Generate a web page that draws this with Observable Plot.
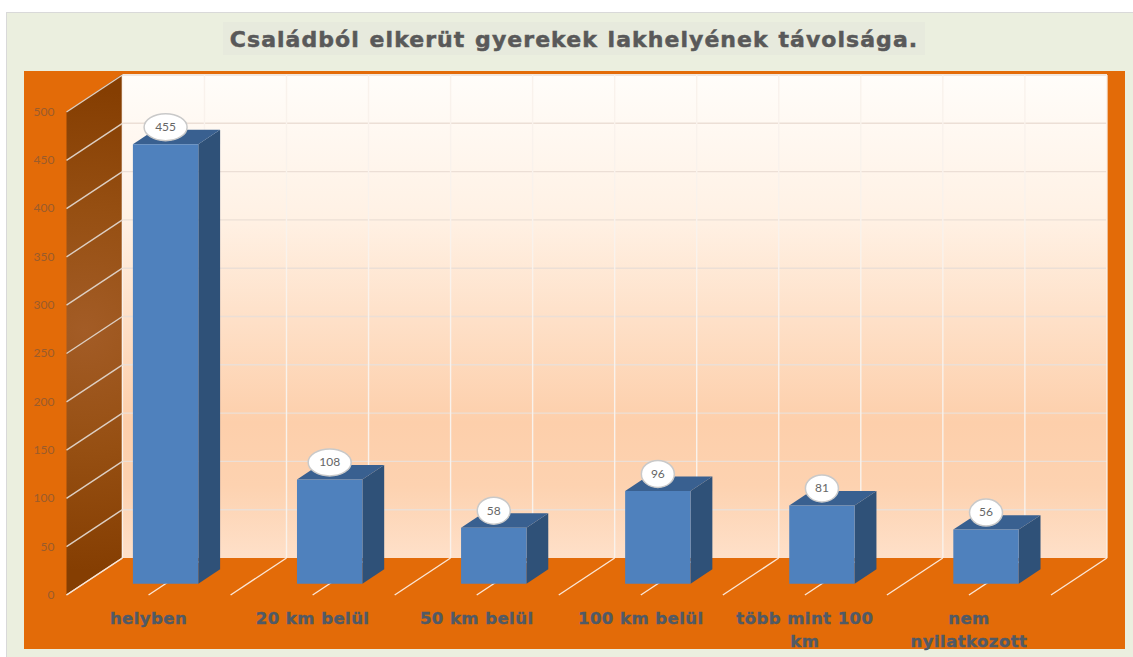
<!DOCTYPE html>
<html lang="hu">
<head>
<meta charset="utf-8">
<script src="https://cdn.jsdelivr.net/npm/d3@7"></script>
<script src="https://cdn.jsdelivr.net/npm/@observablehq/plot@0.6"></script>
<style>
  html, body { margin: 0; padding: 0; width: 1133px; height: 657px; overflow: hidden; background: #fff; }
  #panel { position: absolute; left: 6px; top: 12px; width: 1127px; height: 645px; box-sizing: border-box;
           background: #ebefdf; border-left: 1.5px solid #d9d9d9; border-top: 1.5px solid #d9d9d9; }
  #title { position: absolute; left: 223px; top: 22px; width: 702px; height: 33px; background: #e7eadd;
           text-align: center; white-space: nowrap; font: bold 22px/35px "DejaVu Sans", sans-serif; letter-spacing: 1.05px; word-spacing: 1px; color: #595959; -webkit-text-stroke: 0.5px #595959; }
  #orange { position: absolute; left: 24px; top: 71px; width: 1101px; height: 578px; background: #e36b08; }
  #chart { position: absolute; left: 24px; top: 71px; width: 1101px; height: 586px; }
  #chart svg { display: block; background: transparent; }
  g[aria-label="x-axis tick label"] { letter-spacing: 0.45px; stroke: #505a66; stroke-width: 0.4px; }
</style>
</head>
<body>
<div id="panel"></div>
<div id="title">Családból elkerüt gyerekek lakhelyének távolsága.</div>
<div id="orange"></div>
<div id="chart"></div>
<script>
const categories = ["helyben", "20 km belül", "50 km belül", "100 km belül", "több mint 100\nkm", "nem\nnyilatkozott"];
const values = [455, 108, 58, 96, 81, 56];
const yTicks = [0, 50, 100, 150, 200, 250, 300, 350, 400, 450, 500];
const gridCats = [0, 0.5, 1, 1.5, 2, 2.5, 3, 3.5, 4, 4.5, 5, 5.5, 6];

const depthX = 0.3408, depthY = 38.3;   // oblique projection of one unit of depth, in x and y data units
const barHalf = 0.1993, barNear = 0.305, barFar = 0.695;
const P = (c, v, d) => ({x: c + d * depthX, y: v + d * depthY});
const poly = (id, pts) => pts.map(([c, v, d]) => ({id, ...P(c, v, d)}));

const backWall = poly("back", [[0, 0, 1], [6, 0, 1], [6, 501, 1], [0, 501, 1]]);
const sideWall = poly("side", [[0, 0, 0], [0, 0, 1], [0, 501, 1], [0, 500, 0]]);

const bars = values.map((v, i) => ({c: i + 0.5, v, i, ...P(i + 0.5, v, barNear)}));
const fronts = bars.flatMap(b => poly(b.i, [[b.c - barHalf, 0, barNear], [b.c + barHalf, 0, barNear], [b.c + barHalf, b.v, barNear], [b.c - barHalf, b.v, barNear]]));
const sides = bars.flatMap(b => poly(b.i, [[b.c + barHalf, 0, barNear], [b.c + barHalf, 0, barFar], [b.c + barHalf, b.v, barFar], [b.c + barHalf, b.v, barNear]]));
const tops = bars.flatMap(b => poly(b.i, [[b.c - barHalf, b.v, barNear], [b.c + barHalf, b.v, barNear], [b.c + barHalf, b.v, barFar], [b.c - barHalf, b.v, barFar]]));

const ellipseSymbol = rx => ({
  draw(ctx, size) {
    const ry = Math.sqrt(size / Math.PI), k = 0.5523;
    ctx.moveTo(-rx, 0);
    ctx.bezierCurveTo(-rx, -k * ry, -k * rx, -ry, 0, -ry);
    ctx.bezierCurveTo(k * rx, -ry, rx, -k * ry, rx, 0);
    ctx.bezierCurveTo(rx, k * ry, k * rx, ry, 0, ry);
    ctx.bezierCurveTo(-k * rx, ry, -rx, k * ry, -rx, 0);
    ctx.closePath();
  }
});

const defs = () => {
  const ns = "http://www.w3.org/2000/svg";
  const d = document.createElementNS(ns, "defs");
  d.innerHTML = `
    <linearGradient id="backGrad" x1="0" y1="0" x2="0" y2="1">
      <stop offset="0" stop-color="#fffdfa"/>
      <stop offset="0.3" stop-color="#fff1e4"/>
      <stop offset="0.72" stop-color="#fdcfab"/>
      <stop offset="0.85" stop-color="#fdd2b0"/>
      <stop offset="1" stop-color="#fee0c9"/>
    </linearGradient>
    <radialGradient id="sideGrad" gradientUnits="userSpaceOnUse" cx="60" cy="259" r="240">
      <stop offset="0" stop-color="#a35c26"/>
      <stop offset="0.5" stop-color="#964f12"/>
      <stop offset="1" stop-color="#853e02"/>
    </radialGradient>`;
  return d;
};

const chart = Plot.plot({
  width: 1101, height: 586,
  marginLeft: 42, marginRight: 74.5, marginTop: 40.5, marginBottom: 62.5,
  style: {background: "transparent", fontFamily: "Lato, sans-serif", overflow: "visible"},
  x: {domain: [0, 6], label: null},
  y: {domain: [0, 500], label: null},
  marks: [
    defs,
    Plot.line(backWall, {x: "x", y: "y", z: "id", fill: "url(#backGrad)", stroke: "none"}),
    Plot.line(sideWall, {x: "x", y: "y", z: "id", fill: "url(#sideGrad)", stroke: "none"}),
    // back wall grid
    Plot.link(yTicks.slice(1), {x1: () => depthX, x2: () => 6 + depthX, y1: v => v + depthY, y2: v => v + depthY, stroke: "#ecdfd6", strokeWidth: 1.4}),
    Plot.link(gridCats, {x1: c => c + depthX, x2: c => c + depthX, y1: () => depthY, y2: () => 500 + depthY, stroke: "#f9f2ec", strokeWidth: 1.4}),
    // side wall grid
    Plot.link(yTicks, {x1: () => 0, x2: () => depthX, y1: v => v, y2: v => v + depthY, stroke: "#ddcfc3", strokeWidth: 1.4}),
    // floor grid
    Plot.link(gridCats, {x1: c => c, x2: c => c + depthX, y1: () => 0, y2: () => depthY, stroke: "#fbe6d6", strokeWidth: 1.4}),
    // bars
    Plot.line(sides, {x: "x", y: "y", z: "id", fill: "#2f5178", stroke: "none"}),
    Plot.line(tops, {x: "x", y: "y", z: "id", fill: "#396090", stroke: "none"}),
    Plot.line(fronts, {x: "x", y: "y", z: "id", fill: "#4f81bd", stroke: "none"}),
    // axes
    Plot.axisY({ticks: yTicks, tickSize: 0, tickPadding: 12, fill: "#9a5c2c", fontSize: 12, label: null}),
    Plot.axisX({ticks: categories.map((_, i) => i + 0.5), tickFormat: t => categories[t - 0.5], tickSize: 0, tickPadding: 13,
      fill: "#505a66", fontSize: 16.5, fontWeight: 700, fontFamily: "DejaVu Sans, sans-serif", lineHeight: 1.37, lineAnchor: "top", label: null}),
    // value bubbles
    Plot.dot(bars.filter(b => b.v >= 100), {x: "x", y: "y", dy: -17, r: 13.5, symbol: ellipseSymbol(21.5), fill: "#fff", stroke: "#c9c9c9", strokeWidth: 1.5}),
    Plot.dot(bars.filter(b => b.v < 100), {x: "x", y: "y", dy: -17, r: 13.5, symbol: ellipseSymbol(16.5), fill: "#fff", stroke: "#c9c9c9", strokeWidth: 1.5}),
    Plot.text(bars, {x: "x", y: "y", dy: -17, text: b => String(b.v), fill: "#666", fontSize: 12})
  ]
});
document.getElementById("chart").append(chart);
</script>
</body>
</html>
